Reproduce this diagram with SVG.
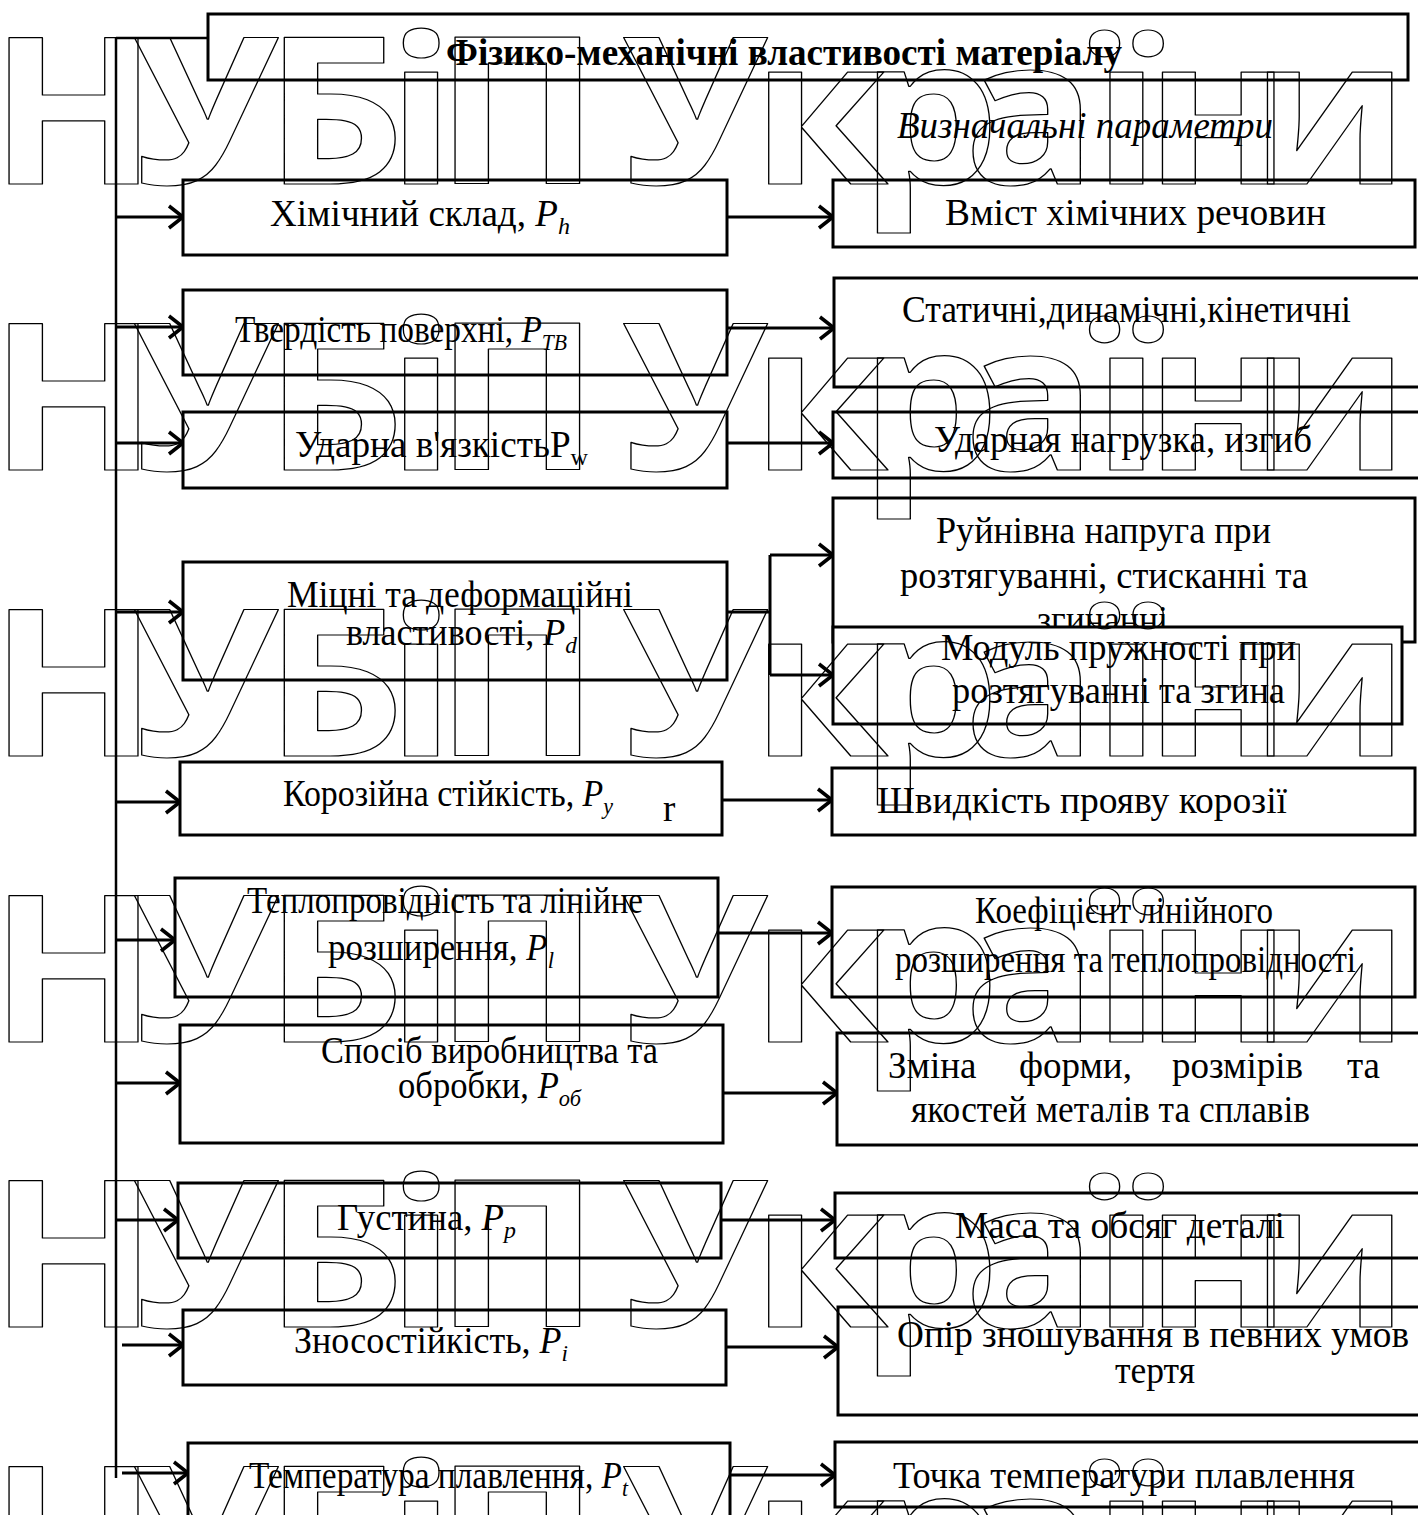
<svg xmlns="http://www.w3.org/2000/svg" width="1418" height="1515" viewBox="0 0 1418 1515">
<style>
.box{fill:#fff;stroke:#000;stroke-width:3}
.t{font-family:"Liberation Serif","Times New Roman",serif;font-size:37px;fill:#000}
.b{font-weight:bold}
.i{font-style:italic}
.s{font-style:italic;font-size:24px}
.ln{stroke:#000;stroke-width:3;fill:none}
.tr{stroke:#000;stroke-width:2.5;fill:none}
.wm{font-family:"Open Sans",sans-serif;font-weight:700;font-size:204px;text-anchor:middle;fill:none;stroke:#000;stroke-width:1.3;stroke-linejoin:round;vector-effect:non-scaling-stroke}
</style>
<defs>
<marker id="ah" markerUnits="userSpaceOnUse" markerWidth="18" markerHeight="26" viewBox="0 0 18 26" refX="16" refY="13" orient="auto">
<path d="M2,2 L16,13 L2,24" fill="none" stroke="#000" stroke-width="3.5"/>
</marker>
</defs>
<rect width="1418" height="1515" fill="#fff"/>
<g id="connectors">
<path class="tr" d="M116,38 V1478 M116,38 H208"/>
<path class="ln" d="M116,217 H183" marker-end="url(#ah)"/>
<path class="ln" d="M116,327 H183" marker-end="url(#ah)"/>
<path class="ln" d="M116,443 H183" marker-end="url(#ah)"/>
<path class="ln" d="M116,612 H183" marker-end="url(#ah)"/>
<path class="ln" d="M116,802 H180" marker-end="url(#ah)"/>
<path class="ln" d="M116,940 H175" marker-end="url(#ah)"/>
<path class="ln" d="M116,1083 H180" marker-end="url(#ah)"/>
<path class="ln" d="M116,1220 H178" marker-end="url(#ah)"/>
<path class="ln" d="M122,1345 H183" marker-end="url(#ah)"/>
<path class="ln" d="M122,1473 H188" marker-end="url(#ah)"/>
<path class="ln" d="M727,217 H833" marker-end="url(#ah)"/>
<path class="ln" d="M727,328 H834" marker-end="url(#ah)"/>
<path class="ln" d="M727,443 H833" marker-end="url(#ah)"/>
<path class="ln" d="M727,612 H770 M770,555 V675"/>
<path class="ln" d="M770,555 H833" marker-end="url(#ah)"/>
<path class="ln" d="M770,675 H833" marker-end="url(#ah)"/>
<path class="ln" d="M722,800 H832" marker-end="url(#ah)"/>
<path class="ln" d="M718,933 H832" marker-end="url(#ah)"/>
<path class="ln" d="M723,1093 H837" marker-end="url(#ah)"/>
<path class="ln" d="M721,1220 H835" marker-end="url(#ah)"/>
<path class="ln" d="M726,1347 H838" marker-end="url(#ah)"/>
<path class="ln" d="M730,1475 H835" marker-end="url(#ah)"/>
</g>
<g id="title">
<rect class="box" x="208" y="14" width="1200" height="66"/>
<text class="t b" x="446" y="65" textLength="676" lengthAdjust="spacingAndGlyphs">Фізико-механічні властивості матеріалу</text>
</g>
<g id="subtitle">
<text class="t i" x="897" y="138" font-size="36" textLength="376" lengthAdjust="spacingAndGlyphs">Визначальні параметри</text>
</g>
<g id="L1">
<rect class="box" x="183" y="180" width="544" height="75"/>
<text class="t" x="270" y="226" textLength="300" lengthAdjust="spacingAndGlyphs">Хімічний склад, <tspan class="i">P</tspan><tspan class="s" dy="8">h</tspan></text>
</g>
<g id="R1">
<rect class="box" x="833" y="180" width="582" height="67"/>
<text class="t" x="945" y="225" textLength="381" lengthAdjust="spacingAndGlyphs">Вміст хімічних речовин</text>
</g>
<g id="L2">
<rect class="box" x="183" y="290" width="544" height="85"/>
<text class="t" x="235" y="342" textLength="332" lengthAdjust="spacingAndGlyphs">Твердість поверхні, <tspan class="i">P</tspan><tspan class="s" dy="8">ТВ</tspan></text>
</g>
<g id="R2">
<rect class="box" x="834" y="278" width="600" height="109"/>
<text class="t" x="902" y="322" textLength="449" lengthAdjust="spacingAndGlyphs">Статичні,динамічні,кінетичні</text>
</g>
<g id="L3">
<rect class="box" x="183" y="412" width="544" height="76"/>
<text class="t" x="295" y="457" textLength="293" lengthAdjust="spacingAndGlyphs">Ударна в'язкістьP<tspan font-size="24" dy="8">w</tspan></text>
</g>
<g id="R3">
<rect class="box" x="833" y="412" width="600" height="66"/>
<text class="t" x="934" y="452" textLength="378" lengthAdjust="spacingAndGlyphs">Ударная нагрузка, изгиб</text>
</g>
<g id="L4">
<rect class="box" x="183" y="562" width="544" height="118"/>
<text class="t" x="287" y="607" textLength="346" lengthAdjust="spacingAndGlyphs">Міцні та деформаційні</text>
<text class="t" x="346" y="645" textLength="231" lengthAdjust="spacingAndGlyphs">властивості, <tspan class="i">P</tspan><tspan class="s" dy="8">d</tspan></text>
</g>
<g id="R4">
<rect class="box" x="833" y="498" width="582" height="144"/>
<text class="t" x="936" y="543" textLength="335" lengthAdjust="spacingAndGlyphs">Руйнівна напруга при</text>
<text class="t" x="900" y="588" textLength="408" lengthAdjust="spacingAndGlyphs">розтягуванні, стисканні та</text>
<text class="t" x="1037" y="632" textLength="131" lengthAdjust="spacingAndGlyphs">згинанні</text>
</g>
<g id="R5">
<rect class="box" x="833" y="627" width="569" height="97"/>
<text class="t" x="941" y="660" textLength="355" lengthAdjust="spacingAndGlyphs">Модуль пружності при</text>
<text class="t" x="952" y="703" textLength="333" lengthAdjust="spacingAndGlyphs">розтягуванні та згина</text>
</g>
<g id="L5">
<rect class="box" x="180" y="762" width="542" height="73"/>
<text class="t" x="283" y="806" textLength="330" lengthAdjust="spacingAndGlyphs">Корозійна стійкість, <tspan class="i">P</tspan><tspan class="s" dy="8">y</tspan></text>
<text class="t" x="663" y="821" font-size="20">r</text>
</g>
<g id="R6">
<rect class="box" x="832" y="768" width="583" height="67"/>
<text class="t" x="877" y="813" textLength="410" lengthAdjust="spacingAndGlyphs">Швидкість прояву корозії</text>
</g>
<g id="L6">
<rect class="box" x="175" y="878" width="543" height="119"/>
<text class="t" x="247" y="913" textLength="396" lengthAdjust="spacingAndGlyphs">Теплопровідність та лінійне</text>
<text class="t" x="328" y="960" textLength="226" lengthAdjust="spacingAndGlyphs">розширення, <tspan class="i">P</tspan><tspan class="s" dy="8">l</tspan></text>
</g>
<g id="R7">
<rect class="box" x="832" y="887" width="583" height="110"/>
<text class="t" x="975" y="923" textLength="298" lengthAdjust="spacingAndGlyphs">Коефіцієнт лінійного</text>
<text class="t" x="895" y="972" textLength="461" lengthAdjust="spacingAndGlyphs">розширення та теплопровідності</text>
</g>
<g id="L7">
<rect class="box" x="180" y="1025" width="543" height="118"/>
<text class="t" x="321" y="1063" textLength="337" lengthAdjust="spacingAndGlyphs">Спосіб виробництва та</text>
<text class="t" x="398" y="1098" textLength="183" lengthAdjust="spacingAndGlyphs">обробки, <tspan class="i">P</tspan><tspan class="s" dy="8">об</tspan></text>
</g>
<g id="R8">
<rect class="box" x="837" y="1033" width="600" height="112"/>
<text class="t" y="1078"><tspan x="888">Зміна</tspan><tspan x="1019">форми,</tspan><tspan x="1172">розмірів</tspan><tspan x="1347">та</tspan></text>
<text class="t" x="911" y="1122" textLength="399" lengthAdjust="spacingAndGlyphs">якостей металів та сплавів</text>
</g>
<g id="L8">
<rect class="box" x="178" y="1183" width="543" height="75"/>
<text class="t" x="337" y="1230" textLength="179" lengthAdjust="spacingAndGlyphs">Густина, <tspan class="i">P</tspan><tspan class="s" dy="8">p</tspan></text>
</g>
<g id="R9">
<rect class="box" x="835" y="1193" width="600" height="65"/>
<text class="t" x="955" y="1238" textLength="330" lengthAdjust="spacingAndGlyphs">Маса та обсяг деталі</text>
</g>
<g id="L9">
<rect class="box" x="183" y="1310" width="543" height="75"/>
<text class="t" x="294" y="1353" textLength="274" lengthAdjust="spacingAndGlyphs">Зносостійкість, <tspan class="i">P</tspan><tspan class="s" dy="8">i</tspan></text>
</g>
<g id="R10">
<rect class="box" x="838" y="1307" width="600" height="108"/>
<text class="t" x="897" y="1347" textLength="512" lengthAdjust="spacingAndGlyphs">Опір зношування в певних умов</text>
<text class="t" x="1115" y="1383" textLength="80" lengthAdjust="spacingAndGlyphs">тертя</text>
</g>
<g id="L10">
<rect class="box" x="188" y="1443" width="542" height="90"/>
<text class="t" x="249" y="1488" textLength="379" lengthAdjust="spacingAndGlyphs">Температура плавлення, <tspan class="i">P</tspan><tspan class="s" dy="8">t</tspan></text>
</g>
<g id="R11">
<rect class="box" x="835" y="1442" width="600" height="65"/>
<text class="t" x="893" y="1488" textLength="462" lengthAdjust="spacingAndGlyphs">Точка температури плавлення</text>
</g>
<g id="watermark" transform="scale(1.08,1)">
<text class="wm" y="184" x="68 190 310 390 479 560 643 759 861 954 1043 1128 1231">НУБіП України</text>
<text class="wm" y="470" x="68 190 310 390 479 560 643 759 861 954 1043 1128 1231">НУБіП України</text>
<text class="wm" y="756" x="68 190 310 390 479 560 643 759 861 954 1043 1128 1231">НУБіП України</text>
<text class="wm" y="1042" x="68 190 310 390 479 560 643 759 861 954 1043 1128 1231">НУБіП України</text>
<text class="wm" y="1327" x="68 190 310 390 479 560 643 759 861 954 1043 1128 1231">НУБіП України</text>
<text class="wm" y="1613" x="68 190 310 390 479 560 643 759 861 954 1043 1128 1231">НУБіП України</text>
</g>
</svg>
